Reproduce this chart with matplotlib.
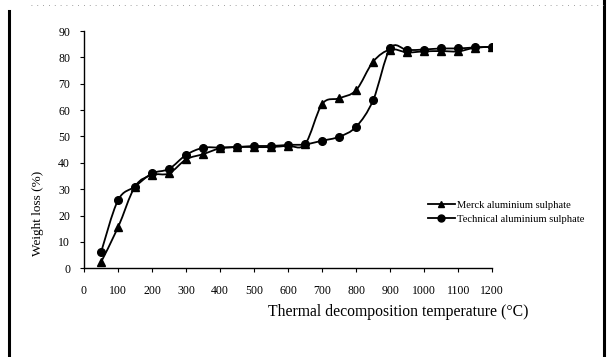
import numpy as np
import matplotlib.pyplot as plt
from matplotlib.path import Path
from matplotlib.patches import PathPatch
from matplotlib.lines import Line2D

plt.rcParams['font.family'] = ['Liberation Serif', 'DejaVu Serif']

# temperatures (°C)
temperature = [50, 100, 150, 200, 250, 300, 350, 400, 450, 500, 550, 600,
               650, 700, 750, 800, 850, 900, 950, 1000, 1050, 1100, 1150, 1200]
# weight loss (%)
merck = [2.3, 15.5, 31, 35.4, 36, 41.3, 43.3, 45.5, 46, 46, 46, 46.5,
         47.1, 62.3, 64.5, 67.6, 78.4, 83, 81.9, 82.3, 82.4, 82.3, 83.7, 84]
technical = [6, 25.8, 31, 36, 37.7, 43, 45.7, 45.8, 46, 46.4, 46.4, 46.8,
             47, 48.4, 49.9, 53.7, 63.8, 83.4, 82.8, 83, 83.4, 83.4, 83.8, 84]

y_ticks = list(range(0, 91, 10))
x_ticks = list(range(0, 1201, 100))


def smooth_path(x, y):
    # excel style smoothed line: cubic bezier through every point
    pts = np.column_stack([x, y]).astype(float)
    n = len(pts)
    verts = [pts[0]]
    codes = [Path.MOVETO]
    for i in range(n - 1):
        p0 = pts[i - 1] if i > 0 else pts[i]
        p1 = pts[i]
        p2 = pts[i + 1]
        p3 = pts[i + 2] if i + 2 < n else pts[i + 1]
        c1 = p1 + (p2 - p0) / 6.0
        c2 = p2 - (p3 - p1) / 6.0
        verts += [c1, c2, p2]
        codes += [Path.CURVE4] * 3
    return Path(verts, codes)


fig = plt.figure(figsize=(6.13, 3.57), dpi=100)
ax = fig.add_axes([0.137, 0.2485, 0.666, 0.6645])

for vals, mk in [(merck, '^'), (technical, 'o')]:
    ax.add_patch(PathPatch(smooth_path(temperature, vals), fill=False,
                           edgecolor='black', lw=1.3))
    ax.plot(temperature, vals, linestyle='none', marker=mk, ms=5.5,
            color='black')

ax.set_xlim(0, 1200)
ax.set_ylim(0, 90)
ax.set_xticks(x_ticks)
ax.set_yticks(y_ticks)
ax.tick_params(labelsize=8.5, length=3, width=0.8, direction='out', pad=7)
ax.tick_params(axis='x', pad=9)
for s in ['top', 'right']:
    ax.spines[s].set_visible(False)
for s in ['left', 'bottom']:
    ax.spines[s].set_linewidth(1.0)

ax.set_ylabel('Weight loss (%)', fontsize=9.5, labelpad=10, y=0.23)
ax.set_xlabel('Thermal decomposition temperature (\u00b0C)', fontsize=11.3,
              labelpad=5, x=0.77)

handles = [Line2D([], [], color='black', lw=1.3, marker='^', ms=5),
           Line2D([], [], color='black', lw=1.3, marker='o', ms=5)]
fig.legend(handles, ['Merck aluminium sulphate', 'Technical aluminium sulphate'],
           loc='center left', bbox_to_anchor=(0.682, 0.405), frameon=False,
           fontsize=7.6, handlelength=2.6, handletextpad=0.2, labelspacing=0.45)

# scanned page border
fig.add_artist(Line2D([0.015, 0.015], [0.0, 0.97], color='black', lw=2.2))
fig.add_artist(Line2D([0.985, 0.985], [0.0, 1.0], color='black', lw=2.2))
fig.add_artist(Line2D([0.05, 0.99], [0.985, 0.985], color='gray', lw=0.6,
                      linestyle=(0, (1, 6))))

fig.savefig('out.png', dpi=100)
